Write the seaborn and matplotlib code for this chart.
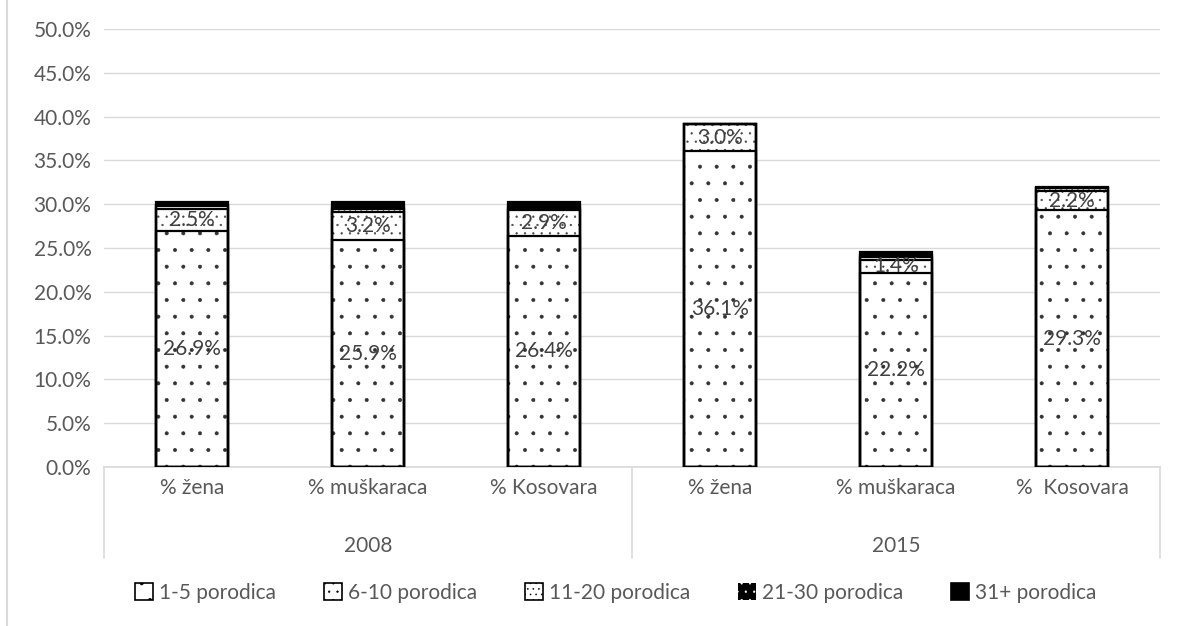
import matplotlib
matplotlib.use("Agg")
import matplotlib.pyplot as plt
import matplotlib.patches as mpatches
from matplotlib.lines import Line2D
import seaborn as sns
import pandas as pd
import numpy as np

# ---- data ----
years = ["2008", "2015"]
groups = ["% žena", "% muškaraca", "% Kosovara", "% žena", "% muškaraca", "%  Kosovara"]
group_year = ["2008", "2008", "2008", "2015", "2015", "2015"]
series = ["1-5 porodica", "6-10 porodica", "11-20 porodica", "21-30 porodica", "31+ porodica"]
v_1_5 = [26.9, 25.9, 26.4, 36.1, 22.2, 29.3]
v_6_10 = [2.5, 3.2, 2.9, 3.0, 1.4, 2.2]
v_11_20 = [0.4, 0.3, 0.3, 0.0, 0.4, 0.3]
v_21_30 = [0.1, 0.3, 0.2, 0.0, 0.2, 0.0]
v_31p = [0.4, 0.5, 0.4, 0.1, 0.3, 0.2]
yticks = [0, 5, 10, 15, 20, 25, 30, 35, 40, 45, 50]

sns.set_theme(style="white")
plt.rcParams["font.family"] = ["Lato", "DejaVu Sans"]
plt.rcParams["hatch.linewidth"] = 0.4
TXT = "#595959"
FS = 15

vals = [v_1_5, v_6_10, v_11_20, v_21_30, v_31p]
cum = np.cumsum(np.array(vals), axis=0)
keys = [f"{y}|{g}" for y, g in zip(group_year, groups)]

fig = plt.figure(figsize=(11.82, 6.26), dpi=100)
ax = fig.add_axes([104 / 1182, (626 - 467) / 626, 1056 / 1182, 438 / 626])

hatches = [".", "..", "...", "..", None]
faces = ["white", "white", "white", "black", "black"]
hcols = ["#333333", "#444444", "#444444", "black", "black"]

# filled, hatched layers (drawn top-down so lower layers cover upper cumulative bars)
for i in range(len(series) - 1, -1, -1):
    df = pd.DataFrame({"cat": keys, "val": cum[i]})
    sns.barplot(data=df, x="cat", y="val", order=keys, ax=ax, color=faces[i],
                width=0.41, edgecolor=hcols[i], linewidth=0, hatch=hatches[i],
                saturation=1, errorbar=None, zorder=3)
# outlines of each segment
for i in range(len(series)):
    df = pd.DataFrame({"cat": keys, "val": cum[i]})
    sns.barplot(data=df, x="cat", y="val", order=keys, ax=ax, fill=False,
                width=0.41, edgecolor="black", linewidth=1.6, color="black",
                saturation=1, errorbar=None, zorder=4)

# data labels for 1-5 and 6-10
for j in range(len(keys)):
    ax.text(j, v_1_5[j] / 2, f"{v_1_5[j]:.1f}%", ha="center", va="center",
            fontsize=FS, color="#404040", zorder=5)
    ax.text(j, v_1_5[j] + v_6_10[j] / 2, f"{v_6_10[j]:.1f}%", ha="center", va="center",
            fontsize=FS, color="#404040", zorder=5)

ax.set_ylim(0, 50)
ax.set_xlim(-0.5, len(keys) - 0.5)
ax.set_yticks(yticks)
ax.set_yticklabels([f"{t:.1f}%" for t in yticks], fontsize=FS, color=TXT)
ax.tick_params(axis="y", length=0, pad=9)
ax.set_xticks([])
ax.set_xlabel("")
ax.set_ylabel("")
ax.grid(axis="y", color="#d9d9d9", linewidth=1, zorder=0)
for s in ["top", "right", "left"]:
    ax.spines[s].set_visible(False)
ax.spines["bottom"].set_color("#d9d9d9")
ax.spines["bottom"].set_linewidth(1.2)

# category labels (two levels)
tr = ax.get_xaxis_transform()
for j, g in enumerate(groups):
    ax.text(j, -0.048, g, transform=tr, ha="center", va="center", fontsize=FS, color=TXT)
for k, y in enumerate(years):
    ax.text(1 + 3 * k, -0.18, y, transform=tr, ha="center", va="center", fontsize=FS, color=TXT)
for xb in [-0.5, 2.5, 5.5]:
    ax.add_line(Line2D([xb, xb], [0, -0.207], transform=tr, color="#d9d9d9",
                       linewidth=1.2, clip_on=False))

# figure left border
fig.add_artist(Line2D([7 / 1182, 7 / 1182], [0, 1], color="#d9d9d9", linewidth=1.5))

# legend
handles = []
for i, s in enumerate(series):
    if i == 3:
        h = mpatches.Patch(facecolor="black", edgecolor="white", hatch="..",
                           linewidth=0, label=s)
    else:
        h = mpatches.Patch(facecolor=faces[i], edgecolor="black", hatch=hatches[i],
                           linewidth=1.2, label=s)
    handles.append(h)
fig.legend(handles=handles, loc="center", bbox_to_anchor=(0.521, (626 - 593) / 626),
           ncol=5, frameon=False, fontsize=FS, handlelength=0.85, handleheight=0.85,
           columnspacing=2.3, handletextpad=0.3, labelcolor=TXT)

fig.savefig("out.png", dpi=100)
